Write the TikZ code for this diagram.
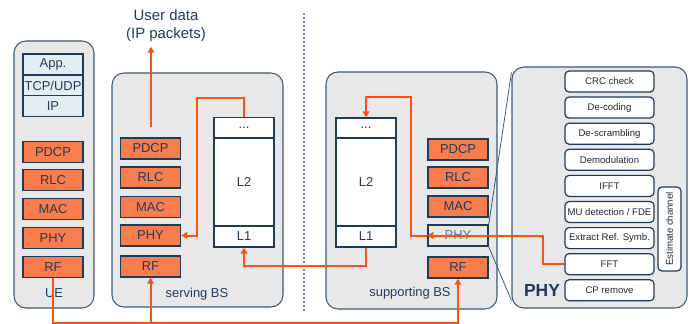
\documentclass[tikz,border=0pt]{standalone}
\usepackage{fontspec}
\setmainfont{Liberation Sans}
\usetikzlibrary{arrows.meta,calc}
\definecolor{navy}{HTML}{1F3B5C}
\definecolor{layerorange}{HTML}{F97C4C}
\definecolor{protoblue}{HTML}{E3EEF2}
\definecolor{panelgray}{HTML}{E8E8E8}
\definecolor{panelline}{HTML}{3D5A76}
\definecolor{sigorange}{HTML}{FF5012}
\definecolor{dotblue}{HTML}{6E8BA5}
\definecolor{blktext}{HTML}{202833}

\begin{document}
\begin{tikzpicture}[x=0.75pt,y=-0.75pt,
    panel/.style={draw=panelline,fill=panelgray,line width=0.8pt,rounded corners=9pt,inner sep=0pt},
    layer/.style={draw=navy,fill=layerorange,line width=1.1pt,minimum width=45pt,minimum height=15.75pt,
        inner sep=0pt,text=navy,font=\fontsize{9.7}{11}\selectfont},
    proto/.style={layer,fill=protoblue},
    stk/.style={draw=navy,fill=white,line width=1.1pt,minimum width=45pt,inner sep=0pt,
        text=navy,font=\fontsize{9.7}{11}\selectfont},
    blk/.style={draw=navy,fill=white,rounded corners=3pt,line width=0.9pt,minimum width=66.75pt,
        minimum height=15.75pt,inner sep=0pt,text=blktext,font=\fontsize{7.2}{8}\selectfont},
    lbl/.style={text=navy,font=\fontsize{9.7}{11}\selectfont},
    sig/.style={draw=sigorange,line width=1.5pt,-{Triangle[width=5pt,length=4.5pt]}}]
    \useasboundingbox (0,0) rectangle (692,324);

    \draw[dotblue,line width=1.3pt,dash pattern=on 1.5pt off 1.5pt] (304,13) -- (304,313);

    \node[panel,minimum width=60pt,minimum height=200.25pt] (ue) at (54,174.5) {};
    \node[panel,minimum width=128.25pt,minimum height=175.5pt] (serving) at (197.5,190) {};
    \node[panel,minimum width=128.25pt,minimum height=177.75pt] (supporting) at (411.5,190.5) {};
    \node[panel,minimum width=131.25pt,minimum height=180.75pt] (phypanel) at (599.5,187.5) {};

    \node[proto] (ue-app) at (53,64.5) {App.};
    \node[proto] (ue-tcp) at (53,85.5) {TCP/UDP};
    \node[proto] (ue-ip) at (53,106) {IP};
    \node[layer] (ue-pdcp) at (53,152) {PDCP};
    \node[layer] (ue-rlc) at (53,180) {RLC};
    \node[layer] (ue-mac) at (53,209) {MAC};
    \node[layer] (ue-phy) at (53,238) {PHY};
    \node[layer] (ue-rf) at (53,267) {RF};
    \node[lbl] (ue-name) at (54,293) {UE};

    \node[layer] (ser-pdcp) at (150.5,148.5) {PDCP};
    \node[layer] (ser-rlc) at (150.5,177.5) {RLC};
    \node[layer] (ser-mac) at (150.5,207) {MAC};
    \node[layer] (ser-phy) at (150.5,235.5) {PHY};
    \node[layer] (ser-rf) at (150.5,266.5) {RF};
    \node[stk,minimum height=15pt] (ser-dots) at (244,127.5) {...};
    \node[stk,minimum height=66pt] (ser-l2) at (244,182) {L2};
    \node[stk,minimum height=15.75pt] (ser-l1) at (244,236.5) {L1};
    \node[lbl] (ser-name) at (197,294) {serving BS};

    \node[stk,minimum height=15pt] (sup-dots) at (366,128) {...};
    \node[stk,minimum height=66pt] (sup-l2) at (366,182) {L2};
    \node[stk,minimum height=15.75pt] (sup-l1) at (366,236.5) {L1};
    \node[layer] (sup-pdcp) at (458,149.5) {PDCP};
    \node[layer] (sup-rlc) at (458,177.5) {RLC};
    \node[layer] (sup-mac) at (458,206.5) {MAC};
    \node[layer,fill=none,text=navy!70] (sup-phy) at (458,235.5) {PHY};
    \node[layer] (sup-rf) at (458,267.5) {RF};
    \node[lbl] (sup-name) at (410,293) {supporting BS};

    \node[blk] (crc) at (609.5,81.5) {CRC check};
    \node[blk] (decod) at (609.5,107.6) {De-coding};
    \node[blk] (descr) at (609.5,133.7) {De-scrambling};
    \node[blk] (demod) at (609.5,159.8) {Demodulation};
    \node[blk] (ifft) at (609.5,185.9) {IFFT};
    \node[blk] (mudet) at (609.5,212) {MU detection / FDE};
    \node[blk] (extract) at (609.5,238.1) {Extract Ref. Symb.};
    \node[blk] (fft) at (609.5,264.2) {FFT};
    \node[blk] (cprem) at (609.5,290.3) {CP remove};
    \node[blk,minimum width=17.25pt,minimum height=63pt] (estch) at (669.5,229) {};
    \node[rotate=90,text=blktext,font=\fontsize{7.2}{8}\selectfont] (estlbl) at (estch.center) {Estimate channel};
    \node[text=navy,font=\fontsize{13.1}{15}\selectfont\bfseries] (phyname) at (542,290) {PHY};

    \draw[panelline,line width=0.6pt] (sup-phy.north east) -- ($(phypanel.north west)+(0,6)$);
    \draw[panelline,line width=0.6pt] (sup-phy.south east) -- ($(phypanel.south west)+(0,-8)$);

    \node[text=navy,align=center,font=\fontsize{11.2}{13.5}\selectfont] (userdata) at (166,26) {User data\\(IP packets)};
    \coordinate (ud) at (151,127);
    \draw[sig] (ud) -- (ud |- userdata.south);

    \draw[sig] (ue-rf.south) -- ++(0,45) coordinate (bus) -| (sup-rf.south);
    \draw[sig] (ser-rf.south |- bus) -- (ser-rf.south);
    \draw[sig] (ser-dots.north) |- (197,98) |- (ser-phy.east);
    \draw[sig] (sup-l1.south) -- ++(0,18) -| (ser-l1.south);
    \draw[sig] (fft.west) -- ++(-21,0) |- (sup-phy.west);
    \draw[sig] (sup-phy.west) -- ++(-16,0) |- ($(sup-dots.north)+(0,-20)$) -- (sup-dots.north);
\end{tikzpicture}
\end{document}
